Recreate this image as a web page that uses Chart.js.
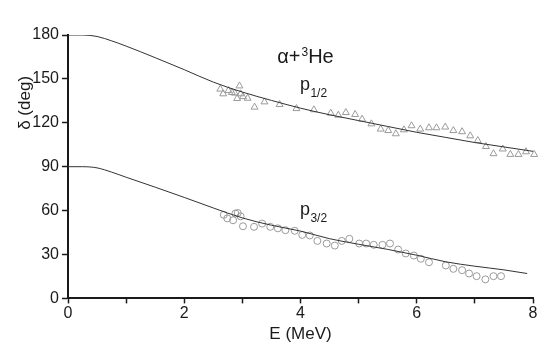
<!DOCTYPE html>
<html>
<head>
<meta charset="utf-8">
<script src="https://cdn.jsdelivr.net/npm/chart.js@4"></script>
<style>
  html, body { margin: 0; padding: 0; background: #fff; }
  #wrap { width: 545px; height: 349px; }
</style>
</head>
<body>
<div id="wrap"><canvas id="chart"></canvas></div>
<script>
// measured p1/2 phase shifts (triangles)
const p12E = [2.62, 2.67, 2.76, 2.82, 2.87, 2.91, 2.95, 2.97, 3.01, 3.09, 3.21, 3.38, 3.64, 3.93, 4.23,
  4.52, 4.65, 4.78, 4.94, 5.06, 5.22, 5.38, 5.51, 5.64, 5.78, 5.91, 6.06, 6.21, 6.34, 6.49,
  6.63, 6.78, 6.92, 7.05, 7.19, 7.32, 7.48, 7.61, 7.75, 7.88, 8.02];
const p12Deg = [143.0, 139.8, 142.0, 140.7, 140.3, 136.6, 145.2, 139.8, 137.9, 136.8, 130.7, 134.3, 132.5, 129.7, 128.9,
  126.6, 125.2, 127.0, 125.7, 122.5, 119.3, 115.7, 114.7, 112.5, 115.2, 118.0, 115.7, 116.6, 116.6, 117.1,
  114.7, 113.9, 111.1, 107.9, 103.8, 98.9, 102.1, 98.4, 98.4, 100.2, 98.4];

// measured p3/2 phase shifts (circles)
const p32E = [2.68, 2.74, 2.84, 2.88, 2.92, 2.97, 3.01, 3.20, 3.34, 3.48, 3.61, 3.74, 3.90, 4.03, 4.16,
  4.29, 4.45, 4.59, 4.71, 4.84, 5.01, 5.13, 5.26, 5.41, 5.54, 5.68, 5.81, 5.95, 6.07, 6.21,
  6.50, 6.63, 6.78, 6.90, 7.03, 7.18, 7.32, 7.45];
const p32Deg = [57.1, 54.7, 53.4, 58.0, 58.4, 56.1, 49.3, 48.9, 51.1, 48.9, 47.9, 46.6, 46.2, 43.4, 43.0,
  39.3, 37.5, 36.1, 39.3, 40.7, 37.5, 37.5, 36.6, 36.6, 37.5, 33.4, 30.7, 29.3, 27.1, 24.7,
  22.5, 20.2, 19.3, 17.0, 15.2, 13.0, 15.2, 15.2];

// calculated curves
const fit12E = [0, 0.25, 0.5, 0.75, 1, 1.5, 2, 2.5, 3, 3.5, 4, 4.5, 5, 5.5, 6, 6.5, 7, 7.5, 8];
const fit12Deg = [180, 180, 179, 176, 172.4, 164.5, 156.3, 147.8, 141, 135.3, 130, 125.5, 121.5, 117.5, 113.5, 110, 106.5, 103.5, 100.5];
const fit32E = [0, 0.25, 0.5, 0.75, 1, 1.5, 2, 2.5, 3, 3.5, 4, 4.5, 5, 5.5, 6, 6.5, 7, 7.5, 7.9];
const fit32Deg = [90, 90, 89.2, 86.3, 82.8, 76, 69, 61.8, 55, 50, 46, 40.8, 37, 33.5, 29.5, 25, 22, 19.5, 17];

const xTicks = [0, 2, 4, 6, 8];
const yTicks = [0, 30, 60, 90, 120, 150, 180];

const toPts = (xs, ys) => xs.map((x, i) => ({ x: x, y: ys[i] }));

const FONT = "'Liberation Sans', Arial, sans-serif";
const INK = '#1a1a1a';
const MARK = '#9a9a9a';

// text labels drawn on top of the plot
const labelPlugin = {
  id: 'labels',
  afterDraw(chart) {
    const ctx = chart.ctx;
    const xs = chart.scales.x;
    const ys = chart.scales.y;
    ctx.save();
    ctx.fillStyle = INK;
    ctx.textBaseline = 'alphabetic';
    ctx.textAlign = 'left';

    // title: alpha + 3He
    let x = xs.getPixelForValue(3.6);
    let y = ys.getPixelForValue(160.9);
    ctx.font = '20px ' + FONT;
    ctx.fillText('α+', x, y);
    x += ctx.measureText('α+').width + 1;
    ctx.font = '12px ' + FONT;
    ctx.fillText('3', x, y - 7);
    x += ctx.measureText('3').width;
    ctx.font = '20px ' + FONT;
    ctx.fillText('He', x, y);

    // partial wave names
    const wave = (main, sub, e, d) => {
      let px = xs.getPixelForValue(e);
      const py = ys.getPixelForValue(d);
      ctx.font = '18px ' + FONT;
      ctx.fillText(main, px, py);
      px += ctx.measureText(main).width + 0.5;
      ctx.font = '12px ' + FONT;
      ctx.fillText(sub, px, py + 7);
    };
    wave('p', '1/2', 3.99, 142.5);
    wave('p', '3/2', 3.99, 57.3);

    // y axis title
    ctx.translate(xs.left - 43, ys.getPixelForValue(133.6));
    ctx.rotate(-Math.PI / 2);
    ctx.textAlign = 'center';
    ctx.textBaseline = 'middle';
    ctx.font = '17px ' + FONT;
    ctx.fillText('δ (deg)', 0, 0);
    ctx.restore();
  }
};

const chart = new Chart(document.getElementById('chart'), {
  type: 'scatter',
  data: {
    datasets: [
      {
        label: 'p1/2 fit',
        data: toPts(fit12E, fit12Deg),
        showLine: true,
        borderColor: '#333',
        borderWidth: 1,
        pointRadius: 0,
        cubicInterpolationMode: 'monotone'
      },
      {
        label: 'p3/2 fit',
        data: toPts(fit32E, fit32Deg),
        showLine: true,
        borderColor: '#333',
        borderWidth: 1,
        pointRadius: 0,
        cubicInterpolationMode: 'monotone'
      },
      {
        label: 'p1/2',
        data: toPts(p12E, p12Deg),
        pointStyle: 'triangle',
        pointRadius: 4,
        borderWidth: 1,
        borderColor: MARK,
        backgroundColor: 'rgba(0,0,0,0)',
        clip: false
      },
      {
        label: 'p3/2',
        data: toPts(p32E, p32Deg),
        pointStyle: 'circle',
        pointRadius: 3.5,
        borderWidth: 1,
        borderColor: MARK,
        backgroundColor: 'rgba(0,0,0,0)',
        clip: false
      }
    ]
  },
  options: {
    responsive: true,
    maintainAspectRatio: false,
    animation: false,
    events: [],
    layout: {
      padding: { left: 0, top: 35, right: 12, bottom: 4 }
    },
    plugins: {
      legend: { display: false },
      tooltip: { enabled: false }
    },
    scales: {
      x: {
        type: 'linear',
        min: 0,
        max: 8,
        border: { display: true, color: INK, width: 2 },
        grid: {
          drawOnChartArea: false,
          drawTicks: true,
          tickLength: 5,
          tickColor: INK,
          tickWidth: 1.5
        },
        ticks: {
          stepSize: 1,
          padding: 1,
          maxRotation: 0,
          color: INK,
          font: { family: FONT, size: 16 },
          callback: (v) => xTicks.includes(v) ? String(v) : ''
        },
        title: {
          display: true,
          text: 'E (MeV)',
          color: INK,
          font: { family: FONT, size: 17 },
          padding: { top: 0, bottom: 0 }
        }
      },
      y: {
        type: 'linear',
        min: 0,
        max: 180,
        border: { display: true, color: INK, width: 2 },
        grid: {
          drawOnChartArea: false,
          drawTicks: true,
          tickLength: 6,
          tickColor: INK,
          tickWidth: 1.5
        },
        ticks: {
          stepSize: 15,
          padding: 3,
          color: INK,
          font: { family: FONT, size: 16 },
          callback: (v) => yTicks.includes(v) ? String(v) : ''
        },
        afterFit: (scale) => { scale.width = 68; }
      }
    }
  },
  plugins: [labelPlugin]
});
</script>
</body>
</html>
